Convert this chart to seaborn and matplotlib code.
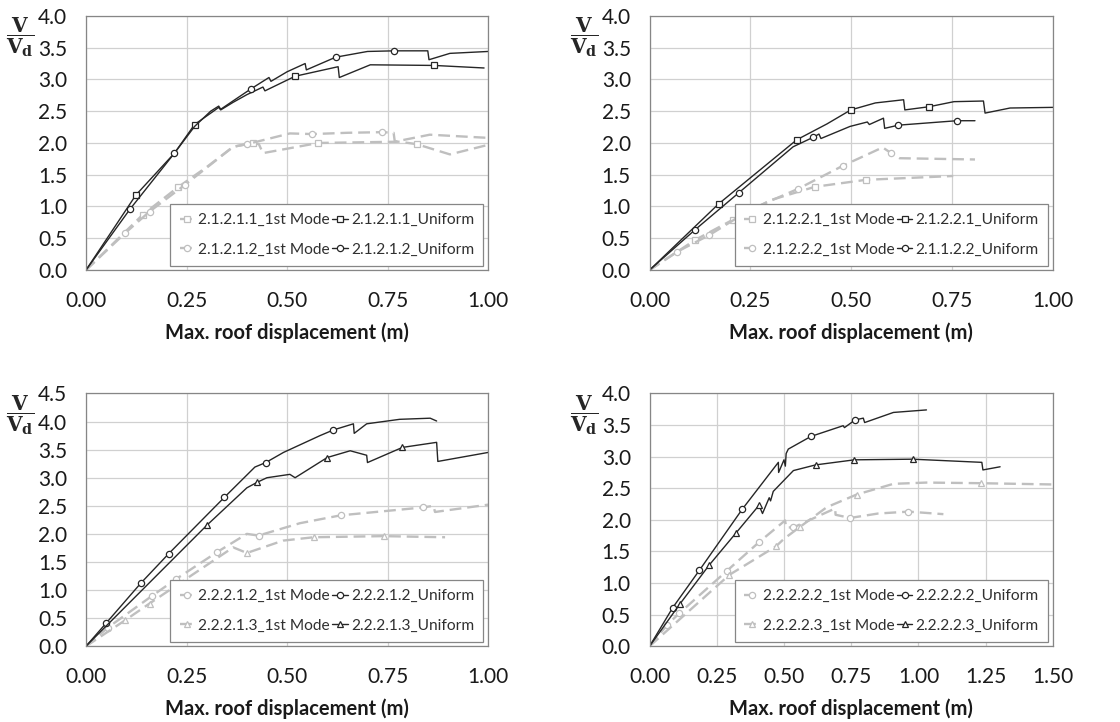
import matplotlib
matplotlib.use("Agg")
import seaborn as sns
from matplotlib import pyplot as plt

# ---- panel 1 (top left) ----
p1_u1_x = [0, 0.124, 0.22, 0.27, 0.317, 0.33, 0.335, 0.366, 0.40, 0.44, 0.445, 0.52, 0.627, 0.63, 0.707, 0.866, 0.99]
p1_u1_y = [0, 1.18, 1.84, 2.29, 2.50, 2.56, 2.52, 2.64, 2.76, 2.88, 2.82, 3.05, 3.20, 3.03, 3.23, 3.22, 3.18]
p1_u1_m = [1, 3, 11, 15]
p1_u2_x = [0, 0.109, 0.22, 0.27, 0.31, 0.33, 0.335, 0.37, 0.41, 0.455, 0.46, 0.50, 0.545, 0.548, 0.621, 0.70, 0.767, 0.85, 0.853, 0.905, 1.0]
p1_u2_y = [0, 0.955, 1.84, 2.26, 2.50, 2.58, 2.53, 2.68, 2.85, 3.03, 2.97, 3.12, 3.25, 3.15, 3.35, 3.44, 3.45, 3.45, 3.31, 3.41, 3.44]
p1_u2_m = [1, 2, 8, 14, 16]
p1_m1_x = [0, 0.141, 0.228, 0.30, 0.366, 0.415, 0.43, 0.44, 0.578, 0.78, 0.823, 0.905, 1.0]
p1_m1_y = [0, 0.87, 1.30, 1.62, 1.94, 2.00, 1.98, 1.84, 2.00, 2.02, 1.98, 1.82, 1.97]
p1_m1_m = [1, 2, 5, 8, 10]
p1_m2_x = [0, 0.097, 0.158, 0.246, 0.366, 0.40, 0.507, 0.563, 0.65, 0.737, 0.765, 0.768, 0.855, 1.0]
p1_m2_y = [0, 0.58, 0.92, 1.34, 1.94, 1.98, 2.15, 2.14, 2.16, 2.17, 2.16, 2.02, 2.13, 2.08]
p1_m2_m = [1, 2, 3, 5, 7, 9]
p1_labels = ["2.1.2.1.1_1st Mode", "2.1.2.1.2_1st Mode", "2.1.2.1.1_Uniform", "2.1.2.1.2_Uniform"]

# ---- panel 2 (top right) ----
p2_u1_x = [0, 0.171, 0.365, 0.44, 0.499, 0.56, 0.63, 0.633, 0.693, 0.755, 0.828, 0.832, 0.894, 1.0]
p2_u1_y = [0, 1.04, 2.05, 2.30, 2.52, 2.63, 2.68, 2.52, 2.57, 2.65, 2.66, 2.47, 2.55, 2.56]
p2_u1_m = [1, 2, 4, 8]
p2_u2_x = [0, 0.112, 0.222, 0.356, 0.406, 0.42, 0.425, 0.497, 0.54, 0.545, 0.58, 0.583, 0.617, 0.762, 0.807]
p2_u2_y = [0, 0.63, 1.22, 1.94, 2.09, 2.14, 2.07, 2.26, 2.33, 2.29, 2.39, 2.23, 2.28, 2.35, 2.35]
p2_u2_m = [1, 2, 4, 12, 13]
p2_m1_x = [0, 0.112, 0.206, 0.30, 0.41, 0.537, 0.753]
p2_m1_y = [0, 0.47, 0.79, 1.10, 1.31, 1.42, 1.48]
p2_m1_m = [1, 2, 4, 5]
p2_m2_x = [0, 0.069, 0.148, 0.25, 0.369, 0.479, 0.578, 0.599, 0.62, 0.807]
p2_m2_y = [0, 0.29, 0.55, 0.95, 1.28, 1.64, 1.93, 1.84, 1.76, 1.74]
p2_m2_m = [1, 2, 4, 5, 7]
p2_labels = ["2.1.2.2.1_1st Mode", "2.1.2.2.2_1st Mode", "2.1.2.2.1_Uniform", "2.1.1.2.2_Uniform"]

# ---- panel 3 (bottom left) ----
p3_u1_x = [0, 0.05, 0.136, 0.206, 0.344, 0.42, 0.447, 0.491, 0.582, 0.615, 0.665, 0.667, 0.698, 0.78, 0.856, 0.872]
p3_u1_y = [0, 0.41, 1.12, 1.65, 2.65, 3.19, 3.27, 3.45, 3.75, 3.85, 3.96, 3.79, 3.96, 4.04, 4.06, 4.01]
p3_u1_m = [1, 2, 3, 4, 6, 9]
p3_u2_x = [0, 0.30, 0.40, 0.426, 0.45, 0.507, 0.52, 0.60, 0.657, 0.698, 0.70, 0.787, 0.872, 0.875, 1.0]
p3_u2_y = [0, 2.15, 2.82, 2.92, 3.00, 3.06, 3.00, 3.36, 3.48, 3.40, 3.27, 3.54, 3.63, 3.29, 3.45]
p3_u2_m = [1, 3, 7, 11]
p3_m1_x = [0, 0.054, 0.163, 0.225, 0.327, 0.40, 0.429, 0.532, 0.633, 0.837, 0.864, 0.868, 1.0]
p3_m1_y = [0, 0.33, 0.89, 1.20, 1.68, 2.00, 1.97, 2.19, 2.33, 2.47, 2.50, 2.39, 2.52]
p3_m1_m = [1, 2, 3, 4, 6, 8, 9]
p3_m2_x = [0, 0.097, 0.158, 0.366, 0.40, 0.49, 0.566, 0.74, 0.893]
p3_m2_y = [0, 0.46, 0.76, 1.76, 1.66, 1.88, 1.94, 1.96, 1.94]
p3_m2_m = [1, 2, 4, 6, 7]
p3_labels = ["2.2.2.1.2_1st Mode", "2.2.2.1.3_1st Mode", "2.2.2.1.2_Uniform", "2.2.2.1.3_Uniform"]

# ---- panel 4 (bottom right) ----
p4_u1_x = [0, 0.086, 0.185, 0.345, 0.479, 0.48, 0.50, 0.505, 0.508, 0.516, 0.60, 0.72, 0.725, 0.764, 0.795, 0.80, 0.907, 1.03]
p4_u1_y = [0, 0.61, 1.20, 2.17, 2.91, 2.75, 2.95, 2.85, 3.05, 3.12, 3.32, 3.49, 3.46, 3.58, 3.61, 3.54, 3.70, 3.74]
p4_u1_m = [1, 2, 3, 10, 13]
p4_u2_x = [0, 0.113, 0.221, 0.321, 0.407, 0.42, 0.445, 0.45, 0.46, 0.535, 0.618, 0.762, 0.979, 1.236, 1.24, 1.304]
p4_u2_y = [0, 0.67, 1.28, 1.79, 2.23, 2.10, 2.35, 2.30, 2.45, 2.78, 2.87, 2.95, 2.96, 2.91, 2.79, 2.84]
p4_u2_m = [1, 2, 3, 4, 10, 11, 12]
p4_m1_x = [0, 0.066, 0.11, 0.287, 0.408, 0.504, 0.508, 0.535, 0.69, 0.692, 0.746, 0.85, 0.963, 1.093]
p4_m1_y = [0, 0.34, 0.52, 1.19, 1.65, 1.99, 1.88, 1.88, 2.18, 2.08, 2.03, 2.10, 2.13, 2.09]
p4_m1_m = [1, 2, 3, 4, 7, 10, 12]
p4_m2_x = [0, 0.297, 0.47, 0.50, 0.56, 0.659, 0.77, 0.907, 1.03, 1.232, 1.5]
p4_m2_y = [0, 1.13, 1.58, 1.70, 1.89, 2.20, 2.40, 2.57, 2.59, 2.58, 2.56]
p4_m2_m = [1, 2, 4, 6, 9]
p4_labels = ["2.2.2.2.2_1st Mode", "2.2.2.2.3_1st Mode", "2.2.2.2.2_Uniform", "2.2.2.2.3_Uniform"]

sns.set_style("white")
plt.rcParams["font.family"] = ["Lato", "DejaVu Sans"]
plt.rcParams["mathtext.fontset"] = "dejavuserif"

BLACK = "#262626"
GRAY = "#bfbfbf"
AXCOL = "#868686"
GRID = "#d0d0d0"

fig = plt.figure(figsize=(11.2, 7.22), dpi=100)
positions = [
    [0.0768, 0.626, 0.359, 0.352],
    [0.580, 0.626, 0.360, 0.352],
    [0.0768, 0.105, 0.359, 0.350],
    [0.580, 0.105, 0.360, 0.350],
]

panels = [
    (p1_m1_x, p1_m1_y, p1_m1_m, p1_m2_x, p1_m2_y, p1_m2_m,
     p1_u1_x, p1_u1_y, p1_u1_m, p1_u2_x, p1_u2_y, p1_u2_m, p1_labels, ("s", "o"), 1.0, 4.0),
    (p2_m1_x, p2_m1_y, p2_m1_m, p2_m2_x, p2_m2_y, p2_m2_m,
     p2_u1_x, p2_u1_y, p2_u1_m, p2_u2_x, p2_u2_y, p2_u2_m, p2_labels, ("s", "o"), 1.0, 4.0),
    (p3_m1_x, p3_m1_y, p3_m1_m, p3_m2_x, p3_m2_y, p3_m2_m,
     p3_u1_x, p3_u1_y, p3_u1_m, p3_u2_x, p3_u2_y, p3_u2_m, p3_labels, ("o", "^"), 1.0, 4.5),
    (p4_m1_x, p4_m1_y, p4_m1_m, p4_m2_x, p4_m2_y, p4_m2_m,
     p4_u1_x, p4_u1_y, p4_u1_m, p4_u2_x, p4_u2_y, p4_u2_m, p4_labels, ("o", "^"), 1.5, 4.0),
]

for pos, pdata in zip(positions, panels):
    (m1x, m1y, m1m, m2x, m2y, m2m, u1x, u1y, u1m, u2x, u2y, u2m,
     labels, mk, xmax, ymax) = pdata
    ax = fig.add_axes(pos)
    handles = []
    series = [
        (m1x, m1y, m1m, mk[0], GRAY, True),
        (m2x, m2y, m2m, mk[1], GRAY, True),
        (u1x, u1y, u1m, mk[0], BLACK, False),
        (u2x, u2y, u2m, mk[1], BLACK, False),
    ]
    for (xs, ys, mev, marker, col, dashed), lab in zip(series, labels):
        kw = dict(dashes=(5, 2.5), linewidth=1.7) if dashed else dict(linewidth=1.0)
        sns.lineplot(x=xs, y=ys, ax=ax, sort=False, estimator=None,
                     color=col, marker=marker, markevery=mev,
                     markersize=4.5 if marker != "^" else 5.0,
                     markerfacecolor="white", markeredgecolor=col,
                     markeredgewidth=0.9, label=lab, legend=False, **kw)
        handles.append(ax.get_lines()[-1])

    ax.set_xlim(0, xmax)
    ax.set_ylim(0, ymax)
    ax.set_xticks([i * 0.25 for i in range(int(xmax / 0.25) + 1)])
    ax.set_yticks([i * 0.5 for i in range(int(ymax / 0.5) + 1)])
    ax.xaxis.set_major_formatter(plt.FormatStrFormatter("%.2f"))
    ax.yaxis.set_major_formatter(plt.FormatStrFormatter("%.1f"))
    ax.grid(True, color=GRID, linewidth=0.9)
    ax.set_axisbelow(True)
    for s in ax.spines.values():
        s.set_color(AXCOL)
        s.set_linewidth(0.9)
    ax.tick_params(axis="both", which="major", direction="out", length=5,
                   color=AXCOL, labelsize=15, labelcolor="#1a1a1a")
    ax.tick_params(axis="x", pad=10)
    ax.tick_params(axis="y", pad=8.5)
    ax.set_xlabel("Max. roof displacement (m)", fontsize=14.5, fontweight="bold",
                  labelpad=8, color="#1a1a1a")
    ax.text(-0.163, 0.915, r"$\dfrac{\mathbf{V}}{\mathbf{V}_\mathbf{d}}$",
            transform=ax.transAxes, fontsize=14.5, ha="center", va="center")

    leg = ax.legend(handles=handles, labels=labels, ncol=2, loc="lower right",
                    bbox_to_anchor=(0.988, 0.016), fontsize=11.2, frameon=True,
                    fancybox=False, handlelength=1.0, handletextpad=0.2,
                    columnspacing=0.15, borderpad=0.6, labelspacing=1.0,
                    framealpha=1, borderaxespad=0)
    leg.get_frame().set_edgecolor(AXCOL)
    leg.get_frame().set_linewidth(0.9)
    for t in leg.get_texts():
        t.set_color("#303030")

fig.savefig("out.png", dpi=100)
